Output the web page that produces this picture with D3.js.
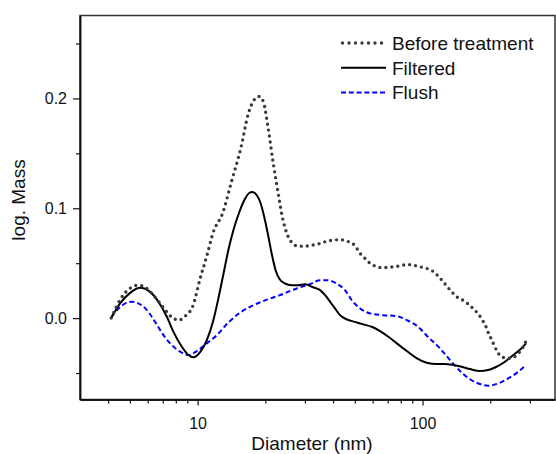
<!DOCTYPE html>
<html>
<head>
<meta charset="utf-8">
<script src="https://cdn.jsdelivr.net/npm/d3@7"></script>
<style>
  body { margin: 0; background: #fff; }
</style>
</head>
<body>
<div id="chart"></div>
<script>
// Dimensions
const width = 556;
const height = 454;
const plotLeft = 80, plotRight = 555, plotTop = 15.5, plotBottom = 399.5;

// Data (diameter in nm, log. mass)
const beforeD = [4.13, 4.56, 5.05, 5.33, 5.65, 6.36, 7.05, 7.81, 8.28, 8.80, 9.58, 10.2, 11.0, 11.75, 12.9, 14.2, 15.6, 16.8, 18.0, 18.8, 19.6, 20.6, 21.7, 22.7, 23.8, 25.3, 26.5, 28.0, 30.0, 32.2, 35.0, 37.5, 40.2, 43.0, 46.0, 48.5, 51.0, 52.8, 55.5, 57.4, 60.4, 64.7, 69.3, 74.2, 79.4, 85.1, 91.0, 97.5, 104.4, 111.0, 117.5, 122.9, 128.9, 134.9, 141.9, 150.9, 159.8, 169.4, 177.7, 184.5, 191.0, 196.1, 201.6, 207.9, 215.0, 224.9, 238.2, 253.3, 268.5, 280.5, 288.4];
const beforeV = [0.0, 0.0179, 0.0276, 0.0297, 0.0294, 0.0209, 0.0094, -0.0003, -0.0018, 0.0018, 0.0124, 0.034, 0.057, 0.0785, 0.0952, 0.1255, 0.1557, 0.186, 0.1997, 0.2018, 0.197, 0.1725, 0.1406, 0.1164, 0.0921, 0.0739, 0.0679, 0.0655, 0.0655, 0.0664, 0.0679, 0.070, 0.0709, 0.0715, 0.070, 0.0685, 0.0634, 0.0588, 0.0543, 0.0512, 0.0482, 0.0461, 0.0461, 0.0467, 0.0476, 0.0488, 0.0482, 0.0467, 0.0452, 0.0427, 0.0382, 0.0336, 0.0285, 0.0239, 0.0194, 0.0164, 0.0127, 0.0079, 0.0033, -0.0018, -0.0073, -0.0134, -0.0185, -0.0245, -0.0306, -0.0352, -0.0366, -0.0357, -0.0315, -0.026, -0.0209];

const filteredD = [4.13, 4.52, 5.01, 5.55, 6.15, 6.70, 7.30, 7.81, 8.51, 9.10, 9.58, 10.26, 10.99, 11.75, 12.37, 13.02, 13.70, 14.42, 15.33, 16.27, 16.95, 17.52, 18.33, 18.97, 19.78, 20.51, 21.34, 22.21, 23.21, 24.45, 26.18, 28.02, 30.05, 32.19, 35.04, 36.89, 38.83, 40.81, 42.95, 46.0, 50.0, 54.5, 59.4, 64.7, 70.5, 76.8, 85.1, 94.4, 104.4, 115.6, 125.5, 136.9, 149.3, 162.5, 179.6, 195.8, 213.2, 232.3, 253.3, 275.4, 288.4];
const filteredV = [0.0, 0.0134, 0.023, 0.0276, 0.0239, 0.0148, 0.0012, -0.0125, -0.0261, -0.0336, -0.0357, -0.031, -0.020, -0.002, 0.018, 0.040, 0.062, 0.080, 0.0966, 0.1088, 0.1139, 0.1148, 0.1118, 0.1057, 0.0921, 0.077, 0.0588, 0.0436, 0.0351, 0.0315, 0.030, 0.030, 0.0309, 0.0285, 0.0255, 0.0209, 0.0148, 0.0088, 0.0027, -0.0012, -0.0034, -0.0057, -0.0079, -0.0118, -0.017, -0.023, -0.030, -0.0366, -0.0406, -0.0418, -0.0418, -0.0427, -0.0443, -0.0464, -0.0482, -0.0473, -0.0443, -0.0397, -0.0336, -0.0275, -0.023];

const flushD = [4.13, 4.45, 4.77, 5.10, 5.45, 5.95, 6.47, 7.05, 7.68, 8.36, 9.10, 9.92, 10.99, 12.17, 13.70, 15.28, 17.11, 19.61, 23.21, 27.57, 31.61, 35.04, 37.52, 41.5, 45.2, 48.4, 52.75, 58.4, 66.6, 76.8, 85.1, 95.6, 105.6, 119.5, 132.5, 146.8, 162.6, 180.1, 196.1, 217.3, 240.6, 266.6, 288.4];
const flushV = [0.001, 0.0088, 0.0134, 0.0148, 0.0134, 0.0073, -0.0034, -0.0155, -0.0245, -0.0306, -0.0336, -0.030, -0.023, -0.0155, -0.004, 0.0043, 0.0103, 0.0155, 0.0209, 0.027, 0.0309, 0.0345, 0.0345, 0.0315, 0.0255, 0.0164, 0.0088, 0.0043, 0.0027, 0.0018, -0.0018, -0.0079, -0.017, -0.0275, -0.0382, -0.0482, -0.0557, -0.060, -0.0615, -0.0594, -0.0548, -0.0488, -0.0427];

// Ticks
const xMajor = [10, 100];
const xMinor = [4, 5, 6, 7, 8, 9, 20, 30, 40, 50, 60, 70, 80, 90, 200, 300];
const yMajor = [0.0, 0.1, 0.2];
const yMinor = [-0.05, 0.05, 0.15, 0.25];

const legendLabels = ["Before treatment", "Filtered", "Flush"];

const font = "'Liberation Sans', Arial, sans-serif";

const svg = d3.select("#chart")
  .append("svg")
  .attr("width", width)
  .attr("height", height)
  .style("font-family", font);

const x = d3.scaleLog().domain([3, 388]).range([plotLeft, plotRight]);
const y = d3.scaleLinear().domain([-0.0741, 0.2755]).range([plotBottom, plotTop]);

// Frame (top and right sides)
svg.append("rect")
  .attr("x", plotLeft)
  .attr("y", plotTop)
  .attr("width", plotRight - plotLeft)
  .attr("height", plotBottom - plotTop)
  .attr("fill", "none")
  .attr("stroke", "#333")
  .attr("stroke-width", 1.5);

// Left axis
const yAxis = svg.append("g").attr("transform", `translate(${plotLeft},0)`);
yAxis.call(d3.axisLeft(y).tickValues(yMajor).tickSize(7).tickFormat(d3.format(".1f")).tickSizeOuter(0));
yAxis.append("g").call(d3.axisLeft(y).tickValues(yMinor).tickSize(4).tickFormat("").tickSizeOuter(0));
yAxis.selectAll(".domain").attr("stroke", "#111").attr("stroke-width", 1.5);
yAxis.selectAll(".tick line").attr("stroke", "#111").attr("stroke-width", 1.2);
yAxis.selectAll("text")
  .style("font-family", font)
  .style("font-size", "16px")
  .attr("fill", "#111")
  .attr("x", -13);

// Bottom axis
const xAxis = svg.append("g").attr("transform", `translate(0,${plotBottom})`);
xAxis.call(d3.axisBottom(x).tickValues(xMajor).tickSize(6).tickFormat(d3.format("d")).tickSizeOuter(0));
xAxis.append("g").call(d3.axisBottom(x).tickValues(xMinor).tickSize(4).tickFormat("").tickSizeOuter(0));
xAxis.selectAll(".domain").attr("stroke", "#111").attr("stroke-width", 1.5);
xAxis.selectAll(".tick line").attr("stroke", "#111").attr("stroke-width", 1.2);
xAxis.selectAll("text")
  .style("font-family", font)
  .style("font-size", "16px")
  .attr("fill", "#111")
  .attr("y", 18);

// Axis titles
svg.append("text")
  .attr("x", 312)
  .attr("y", 450)
  .attr("text-anchor", "middle")
  .style("font-size", "19px")
  .attr("fill", "#111")
  .text("Diameter (nm)");

svg.append("text")
  .attr("transform", "translate(25,200) rotate(-90)")
  .attr("text-anchor", "middle")
  .style("font-size", "19px")
  .attr("fill", "#111")
  .text("log. Mass");

// Series
const line = d3.line()
  .x(d => x(d[0]))
  .y(d => y(d[1]))
  .curve(d3.curveMonotoneX);

const series = [
  { name: legendLabels[2], pts: d3.zip(flushD, flushV), color: "#0000ff", width: 2, dash: "5,3", cap: "butt" },
  { name: legendLabels[1], pts: d3.zip(filteredD, filteredV), color: "#000", width: 2, dash: null, cap: "butt" },
  { name: legendLabels[0], pts: d3.zip(beforeD, beforeV), color: "#3a3a3a", width: 3.4, dash: "0,6", cap: "round" }
];

svg.append("g")
  .selectAll("path")
  .data(series)
  .join("path")
  .attr("d", d => line(d.pts))
  .attr("fill", "none")
  .attr("stroke", d => d.color)
  .attr("stroke-width", d => d.width)
  .attr("stroke-dasharray", d => d.dash)
  .attr("stroke-linecap", d => d.cap)
  .attr("stroke-linejoin", "round");

// Legend
const legendOrder = [series[2], series[1], series[0]];
const legend = svg.append("g")
  .selectAll("g")
  .data(legendOrder)
  .join("g")
  .attr("transform", (d, i) => `translate(341,${43 + i * 24.7})`);

legend.append("line")
  .attr("x1", d => d.cap === "round" ? 1.5 : 0)
  .attr("x2", 45)
  .attr("stroke", d => d.color)
  .attr("stroke-width", d => d.width)
  .attr("stroke-dasharray", d => d.dash ? (d.cap === "round" ? "0,6.5" : "5,2.8") : null)
  .attr("stroke-linecap", d => d.cap);

legend.append("text")
  .attr("x", 51)
  .attr("y", 7)
  .style("font-size", "19px")
  .attr("fill", "#111")
  .text(d => d.name);
</script>
</body>
</html>
